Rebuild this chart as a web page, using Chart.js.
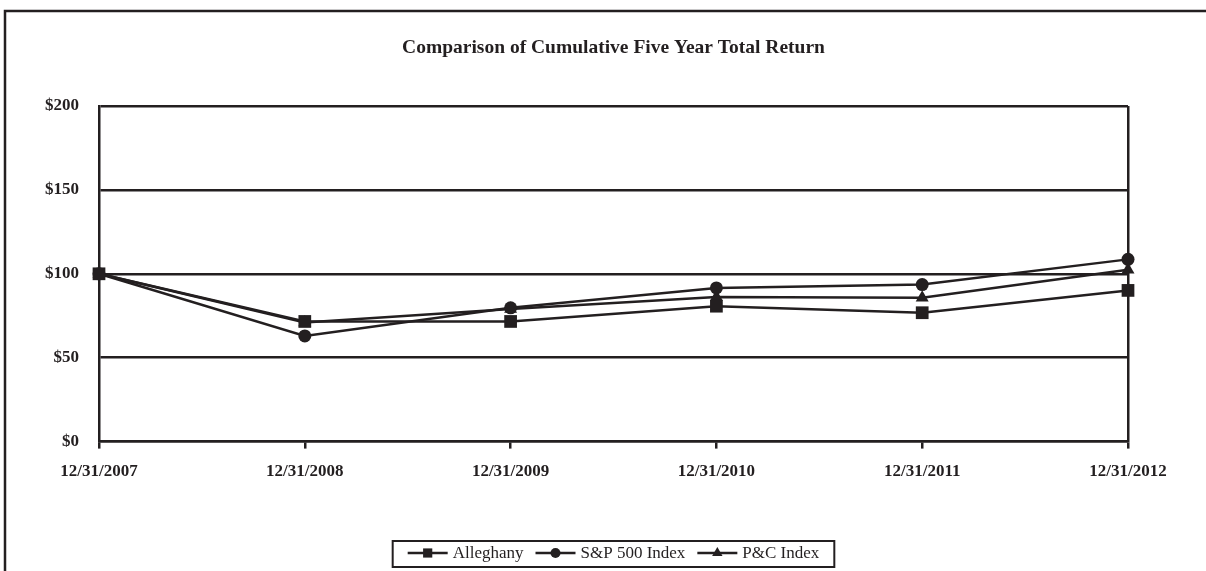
<!DOCTYPE html>
<html>
<head>
<meta charset="utf-8">
<script src="https://cdn.jsdelivr.net/npm/chart.js@4/dist/chart.umd.min.js"></script>
<style>
  html, body { margin: 0; padding: 0; background: #fff; }
  #wrap { width: 1206px; height: 571px; }
</style>
</head>
<body>
<div id="wrap"><canvas id="chart" width="1206" height="571"></canvas></div>
<script>
// data
const years = ['12/31/2007', '12/31/2008', '12/31/2009', '12/31/2010', '12/31/2011', '12/31/2012'];
const alleghany = [100, 71.6, 71.6, 80.7, 76.8, 90.1];
const sp500 = [100, 63.0, 79.7, 91.6, 93.6, 108.6];
const pcIndex = [100, 71.0, 79.0, 86.1, 85.7, 102.4];
const seriesNames = ['Alleghany', 'S&P 500 Index', 'P&C Index'];
const yMin = 0, yMax = 200, yStep = 50;
const chartTitle = 'Comparison of Cumulative Five Year Total Return';

const ink = '#231f20';
const serif = "'Liberation Serif', 'Times New Roman', serif";

// outer frame (left and top edges only, as in the picture)
const framePlugin = {
  id: 'frame',
  beforeDraw(chart) {
    const ctx = chart.ctx;
    ctx.save();
    ctx.fillStyle = '#fff';
    ctx.fillRect(0, 0, chart.width, chart.height);
    ctx.strokeStyle = ink;
    ctx.lineWidth = 2.5;
    ctx.beginPath();
    ctx.moveTo(5, chart.height);
    ctx.lineTo(5, 11);
    ctx.lineTo(chart.width, 11);
    ctx.stroke();
    ctx.restore();
  }
};

// title centred over the plot area
const titlePlugin = {
  id: 'plotTitle',
  afterDraw(chart) {
    const ctx = chart.ctx;
    const area = chart.chartArea;
    ctx.save();
    ctx.font = 'bold 19.5px ' + serif;
    ctx.fillStyle = ink;
    ctx.textAlign = 'center';
    ctx.textBaseline = 'middle';
    ctx.fillText(chartTitle, (area.left + area.right) / 2, 48);
    ctx.restore();
  }
};

// boxed legend with a short line through each marker
const lineLegendPlugin = {
  id: 'lineLegend',
  afterDraw(chart) {
    const ctx = chart.ctx;
    const area = chart.chartArea;
    const lineLen = 40, textGap = 5, itemGap = 12, padX = 15;
    const cy = 553, boxTop = 541, boxBottom = 567;
    ctx.save();
    ctx.font = '17px ' + serif;
    const items = chart.data.datasets.map(ds => ({ ds, w: ctx.measureText(ds.label).width }));
    let total = padX * 2 - itemGap;
    items.forEach(it => { total += lineLen + textGap + it.w + itemGap; });
    const cx = (area.left + area.right) / 2;
    let x = cx - total / 2;
    ctx.strokeStyle = ink;
    ctx.lineWidth = 2;
    ctx.strokeRect(x, boxTop, total, boxBottom - boxTop);
    x += padX;
    items.forEach(it => {
      ctx.strokeStyle = ink;
      ctx.lineWidth = 2.5;
      ctx.beginPath();
      ctx.moveTo(x, cy);
      ctx.lineTo(x + lineLen, cy);
      ctx.stroke();
      ctx.fillStyle = ink;
      Chart.helpers.drawPoint(ctx, {
        pointStyle: it.ds.pointStyle,
        radius: it.ds.legendRadius,
        rotation: 0,
        borderWidth: 0
      }, x + lineLen / 2, cy);
      x += lineLen + textGap;
      ctx.fillStyle = ink;
      ctx.textAlign = 'left';
      ctx.textBaseline = 'middle';
      ctx.fillText(it.ds.label, x, cy + 1);
      x += it.w + itemGap;
    });
    ctx.restore();
  }
};

const makeSet = (label, data, style, radius, legendRadius) => ({
  label,
  data,
  borderColor: ink,
  backgroundColor: ink,
  borderWidth: 2.5,
  pointStyle: style,
  pointRadius: radius,
  pointBorderWidth: 0,
  pointBackgroundColor: ink,
  legendRadius,
  tension: 0,
  clip: false
});

new Chart(document.getElementById('chart'), {
  type: 'line',
  data: {
    labels: years,
    datasets: [
      makeSet(seriesNames[0], alleghany, 'rect', 9, 6.5),
      makeSet(seriesNames[1], sp500, 'circle', 6.5, 5),
      makeSet(seriesNames[2], pcIndex, 'triangle', 7.5, 6)
    ]
  },
  options: {
    responsive: false,
    animation: false,
    events: [],
    layout: { padding: { top: 106, left: 25, right: 78, bottom: 76 } },
    plugins: {
      legend: { display: false },
      title: { display: false },
      tooltip: { enabled: false }
    },
    scales: {
      x: {
        offset: false,
        grid: {
          drawOnChartArea: true,
          color: c => (c.index === years.length - 1 ? ink : 'rgba(0,0,0,0)'),
          tickColor: ink,
          lineWidth: 2.5,
          tickLength: 7
        },
        border: { display: true, color: ink, width: 2.5 },
        ticks: {
          color: ink,
          padding: 13,
          maxRotation: 0,
          autoSkip: false,
          font: { family: serif, size: 17, weight: 'bold' }
        }
      },
      y: {
        min: yMin,
        max: yMax,
        grid: { color: ink, lineWidth: 2.5, drawTicks: false },
        border: { display: true, color: ink, width: 2.5 },
        ticks: {
          stepSize: yStep,
          padding: 20,
          color: ink,
          font: { family: serif, size: 17, weight: 'bold' },
          callback: v => '$' + v
        }
      }
    }
  },
  plugins: [framePlugin, titlePlugin, lineLegendPlugin]
});
</script>
</body>
</html>
